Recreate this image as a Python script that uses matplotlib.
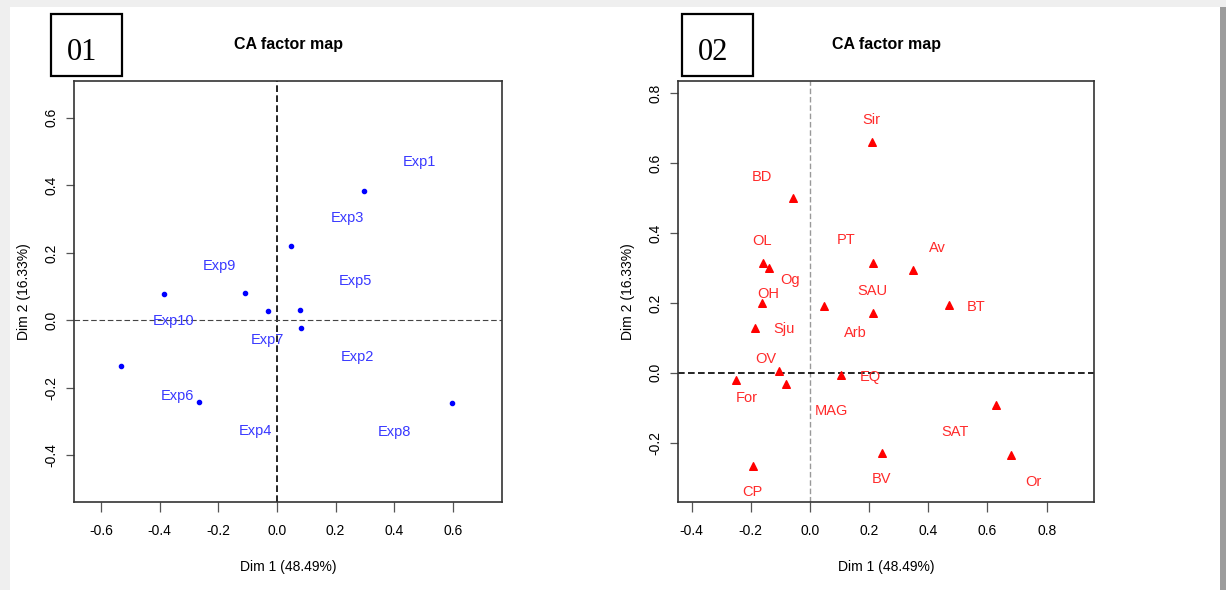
import numpy as np
import matplotlib
matplotlib.use("Agg")
import matplotlib.pyplot as plt
from matplotlib.patches import Rectangle

plt.rcParams["font.family"] = ["Liberation Sans", "DejaVu Sans"]

# panel 01 : rows (experiments)
exp_x = [0.297, 0.049, -0.110, -0.386, -0.031, 0.080, 0.083, -0.532, -0.265, 0.596]
exp_y = [0.383, 0.219, 0.082, 0.077, 0.028, 0.031, -0.023, -0.136, -0.242, -0.245]
exp_names = ["Exp1", "Exp3", "Exp9", "Exp5", "Exp10", "Exp7", "Exp2", "Exp6", "Exp4", "Exp8"]
exp_lab_x = [0.484, 0.239, -0.197, 0.269, -0.351, -0.033, 0.275, -0.341, -0.074, 0.400]
exp_lab_y = [0.468, 0.302, 0.162, 0.116, -0.003, -0.057, -0.109, -0.223, -0.327, -0.330]

# panel 02 : columns (categories)
cat_x = [0.208, -0.056, -0.159, -0.140, 0.213, 0.349, -0.161, 0.047, 0.213, 0.470,
         -0.186, -0.105, 0.105, -0.250, -0.081, 0.629, 0.242, 0.680, -0.192]
cat_y = [0.661, 0.499, 0.313, 0.301, 0.315, 0.294, 0.199, 0.192, 0.172, 0.195,
         0.129, 0.006, -0.007, -0.020, -0.032, -0.093, -0.228, -0.234, -0.267]
cat_names = ["Sir", "BD", "OL", "PT", "Av", "Og", "OH", "SAU", "BT", "Sju",
             "Arb", "OV", "EQ", "For", "MAG", "SAT", "BV", "Or", "CP"]
cat_lab_x = [0.206, -0.161, -0.161, 0.121, 0.432, -0.068, -0.142, 0.210, 0.560, -0.089,
             0.154, -0.148, 0.204, -0.215, 0.074, 0.490, 0.242, 0.754, -0.194]
cat_lab_y = [0.722, 0.559, 0.376, 0.379, 0.356, 0.264, 0.224, 0.233, 0.189, 0.126,
             0.115, 0.041, -0.011, -0.071, -0.109, -0.169, -0.304, -0.312, -0.341]

W, H = 1226, 590
fig = plt.figure(figsize=(W / 100, H / 100), dpi=100, facecolor="#efefef")

# page look: white sheet, dark edge on the right
fig.patches.append(Rectangle((10 / W, 0), 1210 / W, 583 / H, transform=fig.transFigure,
                             facecolor="white", edgecolor="none", zorder=-10))
fig.patches.append(Rectangle((1220 / W, 0), 6 / W, 583 / H, transform=fig.transFigure,
                             facecolor="#9c9c9c", edgecolor="none", zorder=-10))


def style_axes(ax, xlim, ylim, xticks, yticks):
    ax.set_xlim(*xlim)
    ax.set_ylim(*ylim)
    ax.set_xticks(xticks)
    ax.set_yticks(yticks)
    ax.set_xticklabels(["%.1f" % t for t in xticks])
    ax.set_yticklabels(["%.1f" % t for t in yticks], rotation=90, va="center")
    ax.tick_params(axis="x", length=7, width=0.9, pad=9, labelsize=10, color="#555")
    ax.tick_params(axis="y", length=6, width=0.9, pad=5, labelsize=10, color="#555")
    for s in ax.spines.values():
        s.set_linewidth(1.2)
        s.set_color("#333333")
    ax.set_xlabel("Dim 1 (48.49%)", fontsize=10, labelpad=16)
    ax.set_ylabel("Dim 2 (16.33%)", fontsize=10, labelpad=10)
    ax.set_facecolor("white")


# ---- panel 01
ax1 = fig.add_axes([74 / W, 88 / H, 428 / W, 421 / H])
ax1.axvline(0, color="black", lw=1.2, ls=(0, (4, 2)), zorder=1)
ax1.axhline(0, color="#444444", lw=0.8, ls=(0, (5, 2.5)), zorder=1)
ax1.scatter(exp_x, exp_y, s=9, color="#0000ff", zorder=3)
for n, x, y in zip(exp_names, exp_lab_x, exp_lab_y):
    ax1.text(x, y, n, color="#3838ff", fontsize=10.5, ha="center", va="center", zorder=4)
style_axes(ax1, (-0.692, 0.767), (-0.538, 0.709),
           [-0.6, -0.4, -0.2, 0.0, 0.2, 0.4, 0.6], [-0.4, -0.2, 0.0, 0.2, 0.4, 0.6])

# ---- panel 02
ax2 = fig.add_axes([677.7 / W, 88 / H, 416.6 / W, 421 / H])
ax2.axvline(0, color="#999999", lw=1.0, ls=(0, (4, 2)), zorder=1)
ax2.axhline(0, color="black", lw=1.2, ls=(0, (4, 2)), zorder=1)
ax2.scatter(cat_x, cat_y, s=30, marker="^", color="#ff0000", zorder=3)
for n, x, y in zip(cat_names, cat_lab_x, cat_lab_y):
    ax2.text(x, y, n, color="#ff2a2a", fontsize=10.5, ha="center", va="center", zorder=4)
style_axes(ax2, (-0.447, 0.961), (-0.369, 0.834),
           [-0.4, -0.2, 0.0, 0.2, 0.4, 0.6, 0.8], [-0.2, 0.0, 0.2, 0.4, 0.6, 0.8])

# titles and panel boxes
for cx, bx, tx, lab in [(288, 51, 82.5, "01"), (886, 682.3, 712.7, "02")]:
    fig.text(cx / W, 1 - 45 / H, "CA factor map", fontsize=11.5, fontweight="bold",
             ha="center", va="center")
    fig.patches.append(Rectangle((bx / W, 1 - 76 / H), 71 / W, 62 / H, transform=fig.transFigure,
                                 facecolor="white", edgecolor="black", lw=1.6, zorder=2))
    fig.text(tx / W, 1 - 52.5 / H, lab, fontsize=22, family="Liberation Serif",
             ha="center", va="center", zorder=3)

fig.savefig("out.png", dpi=100, facecolor=fig.get_facecolor())
